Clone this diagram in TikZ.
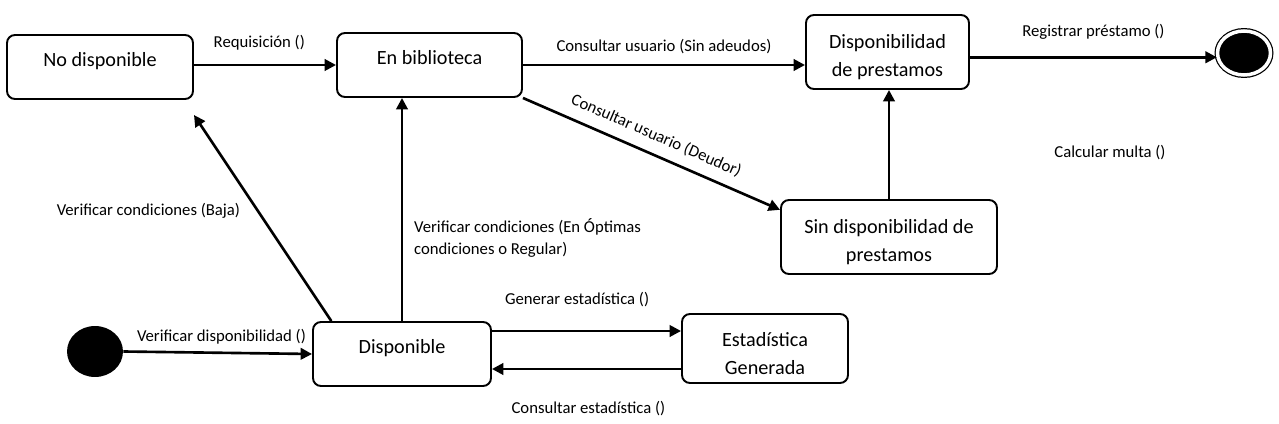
\documentclass[tikz,border=0pt]{standalone}
\usepackage{fontspec}
\setmainfont{Carlito}
\usetikzlibrary{arrows.meta,shapes.geometric}
\newcommand\alto{\rule{0pt}{13.5pt}}
\begin{document}
\begin{tikzpicture}[x=0.02cm,y=-0.02cm,
    estado/.style = {rectangle,rounded corners=4.5pt,draw,line width=1.1pt,align=center,inner sep=0pt,font=\fontsize{11.5}{15.8}\selectfont},
    simple/.style = {estado,text depth=8.5pt},
    etiqueta/.style = {inner sep=0pt,text depth=0pt,font=\fontsize{9.5}{12.5}\selectfont},
    flecha/.style = {-{Triangle[length=6.5pt,width=6.5pt]},line width=1.5pt},
    pseudo/.style = {ellipse,fill=black,inner sep=0pt}]
\useasboundingbox (0,0) rectangle (1279,423);
\node[simple,minimum width=3.72cm,minimum height=1.28cm] (nodisp) at (100,67) {No disponible};
\node[simple,minimum width=3.70cm,minimum height=1.28cm] (enbib) at (429.5,65) {En biblioteca};
\node[estado,minimum width=3.26cm,minimum height=1.48cm] (dispre) at (887.5,52) {\alto Disponibilidad\\de prestamos};
\node[estado,minimum width=4.32cm,minimum height=1.48cm] (sindisp) at (889,237) {\alto Sin disponibilidad de\\prestamos};
\node[simple,minimum width=3.56cm,minimum height=1.28cm] (disponible) at (402,354) {Disponible};
\node[estado,minimum width=3.32cm,minimum height=1.38cm] (estad) at (765,348.5) {\alto Estadística\\Generada};
\node[pseudo,minimum width=1.12cm,minimum height=1.02cm] (inicio) at (95,351.5) {};
\node[pseudo,draw,double=white,double distance=2pt,line width=0.7pt,minimum width=1.06cm,minimum height=0.88cm] (fin) at (1244,53) {};
\coordinate (bajafin) at (194,115);

\draw[flecha] (nodisp.east |- enbib.west) -- node[etiqueta,above=9.2pt,pos=0.46] (lreq) {Requisición ()} (enbib.west);
\draw[flecha] (enbib.east) -- node[etiqueta,above=7pt] (lsin) {Consultar usuario (Sin adeudos)} (enbib.east -| dispre.west);
\draw[flecha] ([yshift=-3pt]dispre.east) -- node[etiqueta,above=11pt] (lreg) {Registrar préstamo ()} ([yshift=-3pt]dispre.east -| fin.west);
\draw[flecha] (enbib.south east) -- node[etiqueta,sloped,above=7pt,pos=0.49] (ldeu) {Consultar usuario (Deudor)} (sindisp.166);
\draw[flecha] (sindisp.north) -- (sindisp.north |- dispre.south);
\draw[flecha] (disponible.155) -- node[etiqueta,left=9pt,pos=0.54] (lbaja) {Verificar condiciones (Baja)} (bajafin);
\draw[flecha] (disponible.north) -- node[etiqueta,right=6.2pt,pos=0.38,align=left] (lopt) {Verificar condiciones (En Óptimas\\condiciones o Regular)} (disponible.north |- enbib.south);
\draw[flecha] (inicio.east) -- node[etiqueta,above=5.5pt,pos=0.52] (lver) {Verificar disponibilidad ()} (disponible.west);
\draw[flecha] ([yshift=4.6mm]disponible.east) -- node[etiqueta,above=14.5pt,pos=0.45] (lgen) {Generar estadística ()} ([yshift=4.6mm]disponible.east -| estad.west);
\draw[flecha] ([yshift=-3mm]disponible.east -| estad.west) -- node[etiqueta,below=17.5pt,pos=0.49] (lcon) {Consultar estadística ()} ([yshift=-3mm]disponible.east);
\node[etiqueta] (lmulta) at (1110,151) {Calcular multa ()};
\end{tikzpicture}
\end{document}
